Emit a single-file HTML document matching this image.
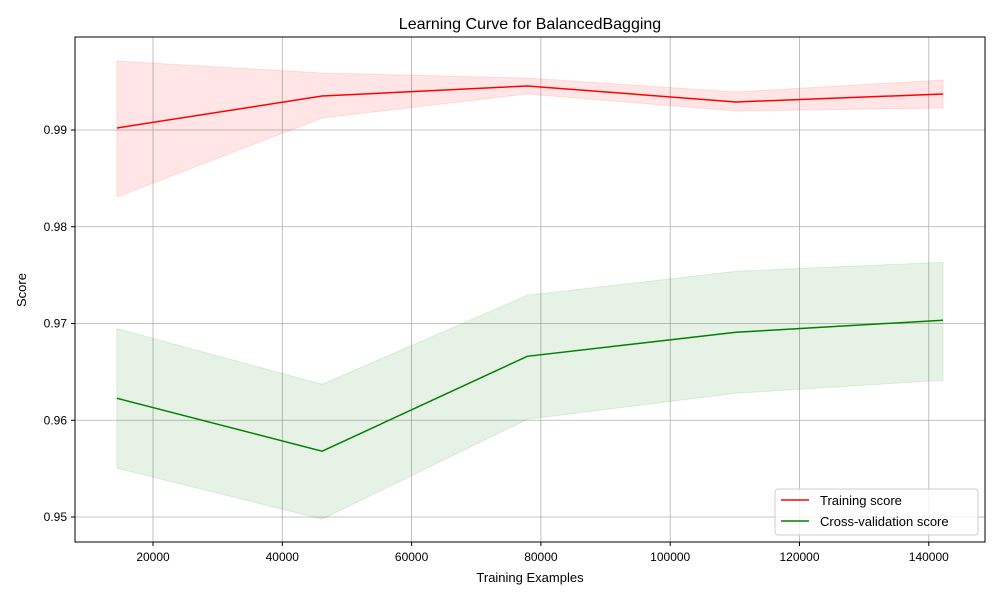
<!DOCTYPE html>
<html><head><meta charset="utf-8"><style>
body{margin:0;background:#fff;font-family:"Liberation Sans","DejaVu Sans",sans-serif}
</style></head><body>
<svg id="chart" width="1000" height="600" xmlns="http://www.w3.org/2000/svg">
<rect width="1000" height="600" fill="#fff"/>
<text x="530" y="29" text-anchor="middle" font-size="16">Learning Curve for BalancedBagging</text>
<g id="grid"></g><g id="bands"></g><g id="lines"></g><g id="ticks"></g>
<rect x="75" y="37" width="910" height="505" fill="none" stroke="#000" stroke-width="1"/>
<text x="530" y="582" text-anchor="middle" font-size="13">Training Examples</text>
<text transform="translate(26,290) rotate(-90)" text-anchor="middle" font-size="13">Score</text>
<g>
<rect x="775" y="489" width="203" height="46" rx="3" fill="#fff" fill-opacity="0.8" stroke="#ccc"/>
<line x1="781" y1="500" x2="809" y2="500" stroke="red" stroke-width="1.5"/>
<text x="820" y="505" font-size="13">Training score</text>
<line x1="781" y1="521" x2="809" y2="521" stroke="green" stroke-width="1.5"/>
<text x="820" y="526" font-size="13">Cross-validation score</text>
</g>
</svg>
<script>
const sizes=[14420,46160,77900,110180,142200];
const trainMean=[0.99021,0.99351,0.99455,0.99290,0.99372];
const trainUpper=[0.99713,0.99589,0.99537,0.99393,0.99517];
const trainLower=[0.98307,0.99124,0.99372,0.99196,0.99227];
const cvMean=[0.96227,0.95680,0.96661,0.96909,0.97034];
const cvUpper=[0.96948,0.96372,0.97292,0.97540,0.97633];
const cvLower=[0.95504,0.94977,0.96010,0.96279,0.96413];
const xTicks=[20000,40000,60000,80000,100000,120000,140000];
const yTicks=[0.95,0.96,0.97,0.98,0.99];
const X=v=>23.7+v/20000*129.3;
const Y=v=>130-(v-0.99)*9675;
const NS="http://www.w3.org/2000/svg";
function mk(p,t,a){const e=document.createElementNS(NS,t);for(const k in a)e.setAttribute(k,a[k]);document.getElementById(p).appendChild(e);return e;}
xTicks.forEach(v=>{
 const g=mk('grid','line',{x1:X(v),x2:X(v),y1:37,y2:542,stroke:'#b0b0b0','stroke-width':0.8});
 
 
 mk('ticks','line',{x1:X(v),x2:X(v),y1:542,y2:546,stroke:'#000'});
 const t=mk('ticks','text',{x:X(v),y:561,'text-anchor':'middle','font-size':12});
 t.textContent=v;
 
 
});
yTicks.forEach(v=>{
 const g=mk('grid','line',{x1:75,x2:985,y1:Y(v),y2:Y(v),stroke:'#b0b0b0','stroke-width':0.8});
 
 
 mk('ticks','line',{x1:71,x2:75,y1:Y(v),y2:Y(v),stroke:'#000'});
 const t=mk('ticks','text',{x:67,y:Y(v)+4,'text-anchor':'end','font-size':12});
 t.textContent=v.toFixed(2);
 
 
});
function band(up,lo,col,name){
 let pts=sizes.map((s,i)=>X(s)+','+Y(up[i]));
 pts=pts.concat(sizes.map((s,i)=>X(s)+','+Y(lo[i])).reverse());
 const p=mk('bands','polygon',{points:pts.join(' '),fill:col,'fill-opacity':0.1,stroke:col,'stroke-opacity':0.1});
 
 
}
function line(m,col,name){
 const p=mk('lines','polyline',{points:sizes.map((s,i)=>X(s)+','+Y(m[i])).join(' '),fill:'none',stroke:col,'stroke-width':1.5});
 
 
}
band(trainUpper,trainLower,'red','training-band');
band(cvUpper,cvLower,'green','cv-band');
line(trainMean,'red','training-line');
line(cvMean,'green','cv-line');
</script>
</body></html>
